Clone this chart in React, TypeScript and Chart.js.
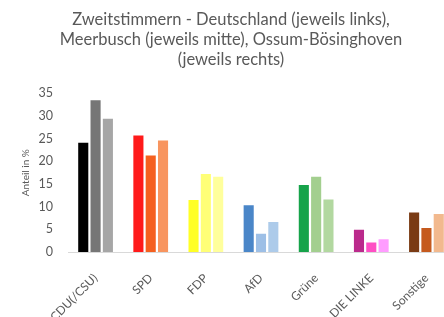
import React, { useEffect, useRef } from "react";
import { Chart, registerables } from "chart.js";

Chart.register(...registerables);

const categories = ["CDU(/CSU)", "SPD", "FDP", "AfD", "Grüne", "DIE LINKE", "Sonstige"];
const deutschland = [24.1, 25.7, 11.5, 10.3, 14.8, 4.9, 8.7];
const meerbusch = [33.5, 21.3, 17.2, 4.0, 16.6, 2.1, 5.3];
const ossum = [29.4, 24.6, 16.6, 6.6, 11.6, 2.8, 8.4];

const colorsLinks = ["#000000", "#ff1a1a", "#ffff26", "#4a86c8", "#16a34a", "#bb2a8c", "#7a3b14"];
const colorsMitte = ["#767676", "#f5601f", "#ffff77", "#9dbfe6", "#a3cf8f", "#ff4fc4", "#c55a1e"];
const colorsRechts = ["#a6a6a6", "#f8955f", "#ffff9c", "#adcbea", "#b2d8a0", "#ff9cff", "#f2b98e"];

const titleLines = [
  "Zweitstimmern - Deutschland (jeweils links),",
  "Meerbusch (jeweils mitte), Ossum-Bösinghoven",
  "(jeweils rechts)",
];

export default function App() {
  const ref = useRef<HTMLCanvasElement | null>(null);
  useEffect(() => {
    if (!ref.current) return;
    const chart = new Chart(ref.current, {
      type: "bar",
      data: {
        labels: categories,
        datasets: [
          { label: "Deutschland", data: deutschland, backgroundColor: colorsLinks },
          { label: "Meerbusch", data: meerbusch, backgroundColor: colorsMitte },
          { label: "Ossum-Bösinghoven", data: ossum, backgroundColor: colorsRechts },
        ],
      },
      options: {
        responsive: false,
        animation: false,
        layout: { padding: { left: 8, right: 6, top: 10, bottom: 0 } },
        datasets: { bar: { categoryPercentage: 0.67, barPercentage: 0.82 } },
        plugins: {
          legend: { display: false },
          tooltip: { enabled: false },
          title: {
            display: true,
            text: titleLines,
            color: "#595959",
            font: { family: "Lato", size: 16.5, weight: "normal" },
            lineHeight: 1.22,
            padding: { top: 0, bottom: 24 },
          },
        },
        scales: {
          x: {
            grid: { display: false, drawTicks: false },
            border: { display: true, color: "#d9d9d9", width: 1 },
            ticks: {
              color: "#595959",
              font: { family: "Lato", size: 12 },
              maxRotation: 45,
              minRotation: 45,
              padding: 19,
            },
            afterFit: (s: any) => {
              s.height = 65;
            },
          },
          y: {
            min: 0,
            max: 35,
            grid: { display: false, drawTicks: false },
            border: { display: false },
            ticks: {
              stepSize: 5,
              color: "#595959",
              font: { family: "Lato", size: 12.5 },
              padding: 15,
            },
            title: {
              display: true,
              text: "Anteil in %",
              color: "#595959",
              font: { family: "Lato", size: 10 },
              padding: { top: 12, bottom: 0 },
            },
            afterFit: (s: any) => {
              s.width = 60;
            },
          },
        },
      },
    });
    return () => chart.destroy();
  }, []);
  return (
    <div
      style={{
        position: "fixed",
        left: 0,
        top: 0,
        width: 444,
        height: 317,
        overflow: "hidden",
        background: "#ffffff",
      }}
    >
      <canvas ref={ref} width={460} height={317} style={{ display: "block" }} />
    </div>
  );
}
